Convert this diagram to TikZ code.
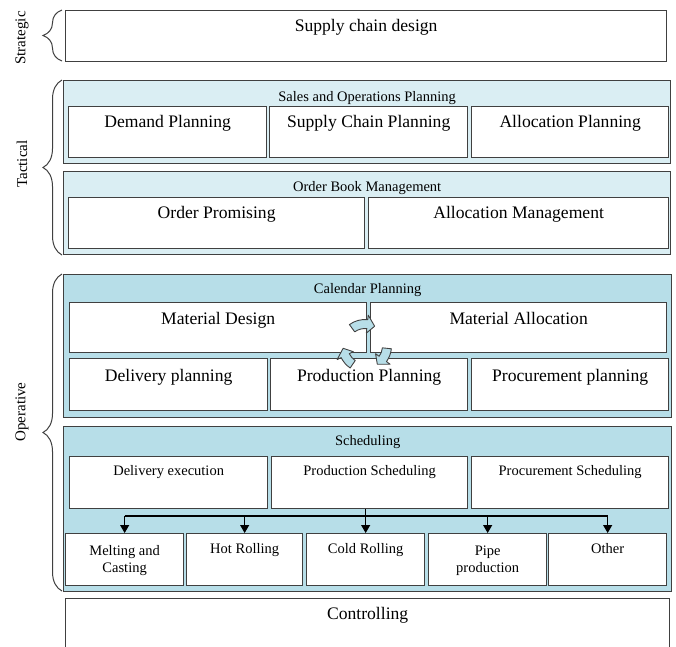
\documentclass[tikz,border=0pt]{standalone}
\usepackage{fontspec}
\setmainfont{Liberation Serif}
\usetikzlibrary{decorations.pathreplacing,arrows.meta,calc}
\definecolor{lightbl}{HTML}{DAEEF3}
\definecolor{midbl}{HTML}{B7DEE8}
\definecolor{edgec}{HTML}{404040}
\tikzset{
 wbox/.style={draw=edgec, line width=1.3pt, fill=white, inner sep=0pt, anchor=north west},
 grpa/.style={wbox, fill=lightbl},
 grpb/.style={wbox, fill=midbl},
 big/.style={font=\fontsize{17.6}{20}\selectfont, text height=1.3em, text depth=0.2em, inner sep=0pt},
 small/.style={font=\fontsize{14.5}{17}\selectfont, text height=1.2em, text depth=0.2em, inner sep=0pt},
 twol/.style={font=\fontsize{14.5}{17}\selectfont, align=center, inner sep=0pt, yshift=-4pt},
 lvl/.style={font=\fontsize{15}{18}\selectfont, rotate=90, inner sep=0pt},
 brc/.style={decorate, decoration={brace, amplitude=19pt}, draw=edgec, line width=1pt},
 conn/.style={draw=black, line width=1.1pt, -{Triangle[length=8pt,width=9pt]}},
 bus/.style={draw=black, line width=1.1pt},
 cyc/.style={fill=midbl, draw=edgec, line width=0.9pt, line join=round},
}
\newcommand\bx[6]{\node[#6, minimum width=#4-#2, minimum height=#5-#3] (#1) at (#2,#3) {};}
\newcommand\carrow[3]{%
 \pgfmathsetmacro\hb{#3-20}%
 \filldraw[cyc] ($(#1)+(#2:26.5)$) arc[start angle=#2, end angle=\hb, radius=26.5]
   -- ($(#1)+(\hb:31)$) -- ($(#1)+(#3:22)$) -- ($(#1)+(\hb:13)$)
   -- ($(#1)+(\hb:17.5)$) arc[start angle=\hb, end angle=#2, radius=17.5] -- cycle;}
\begin{document}
\begin{tikzpicture}[x=1pt,y=-1pt]
\useasboundingbox[fill=white] (0,0) rectangle (676,646);
% Strategic
\bx{sc}{65}{10}{666}{61}{wbox}
\node[big] (t-sc) at (sc.north |- 0,26) {Supply chain design};
% Tactical
\bx{sop}{63}{80}{670}{163}{grpa}
\node[small] (t-sop) at (sop.north |- 0,96) {Sales and Operations Planning};
\bx{dp}{68}{106}{266}{157}{wbox}
\bx{scp}{269}{106}{467}{157}{wbox}
\bx{ap}{471}{106}{668}{157}{wbox}
\node[big] (t-dp) at (dp.north |- 0,122) {Demand Planning};
\node[big] (t-scp) at (scp.north |- 0,122) {Supply Chain Planning};
\node[big] (t-ap) at (ap.north |- 0,122) {Allocation Planning};
\bx{obm}{63}{171}{670}{254}{grpa}
\node[small] (t-obm) at (obm.north |- 0,186) {Order Book Management};
\bx{op}{68}{197}{364}{248}{wbox}
\bx{am}{368}{197}{668}{248}{wbox}
\node[big] (t-op) at (op.north |- 0,213) {Order Promising};
\node[big] (t-am) at (am.north |- 0,213) {Allocation Management};
% Operative
\bx{cal}{63}{274}{671}{417}{grpb}
\node[small] (t-cal) at (cal.north |- 0,288) {Calendar Planning};
\bx{md}{69}{302}{366}{352}{wbox}
\bx{ma}{370}{302}{666}{352}{wbox}
\node[big] (t-md) at (md.north |- 0,319) {Material Design};
\node[big] (t-ma) at (ma.north |- 0,319) {Material Allocation};
\bx{dlp}{69}{358}{267}{410}{wbox}
\bx{pp}{270}{358}{467}{410}{wbox}
\bx{prp}{471}{358}{668}{410}{wbox}
\node[big] (t-dlp) at (dlp.north |- 0,376) {Delivery planning};
\node[big] (t-pp) at (pp.north |- 0,376) {Production Planning};
\node[big] (t-prp) at (prp.north |- 0,376) {Procurement planning};
\coordinate (cc) at (365,346);
\carrow{cc}{-126}{-64}
\carrow{cc}{6}{56}
\carrow{cc}{124}{174}
\bx{sch}{63}{426}{671}{591}{grpb}
\node[small] (t-sch) at (sch.north |- 0,440) {Scheduling};
\bx{de}{69}{456}{267}{508}{wbox}
\bx{ps}{271}{456}{467}{508}{wbox}
\bx{pcs}{471}{456}{668}{508}{wbox}
\node[small] (t-de) at (de.north |- 0,470) {Delivery execution};
\node[small] (t-ps) at (ps.north |- 0,470) {Production Scheduling};
\node[small] (t-pcs) at (pcs.north |- 0,470) {Procurement Scheduling};
\bx{mc}{65}{533}{183}{585}{wbox}
\bx{hr}{186}{533}{302}{585}{wbox}
\bx{cr}{306}{533}{424}{585}{wbox}
\bx{pi}{428}{533}{546}{585}{wbox}
\bx{ot}{548}{533}{666}{585}{wbox}
\node[twol] (t-mc) at (mc.north |- 0,557) {Melting and\\Casting};
\node[small] (t-hr) at (hr.north |- 0,548) {Hot Rolling};
\node[small] (t-cr) at (cr.north |- 0,548) {Cold Rolling};
\node[twol] (t-pi) at (pi.north |- 0,557) {Pipe\\production};
\node[small] (t-ot) at (ot.north |- 0,548) {Other};
\coordinate (busy) at (0,516);
\draw[bus] (mc.north |- busy) -- (ot.north |- busy);
\draw[conn] (cr.north |- ps.south) -- (cr.north);
\foreach \n in {mc,hr,pi,ot} \draw[conn] (\n.north |- busy) -- (\n.north);
% Controlling
\bx{ctl}{65}{598}{669}{680}{wbox}
\node[big] (t-ctl) at (ctl.north |- 0,614) {Controlling};
% braces and level labels
\draw[brc] (62,61) -- (62,10);
\draw[brc] (62,255) -- (62,80);
\draw[brc] (62,591) -- (62,274);
\node[lvl] (l-str) at (22,38) {Strategic};
\node[lvl] (l-tac) at (22,164) {Tactical};
\node[lvl] (l-ope) at (22,412) {Operative};
\end{tikzpicture}
\end{document}
